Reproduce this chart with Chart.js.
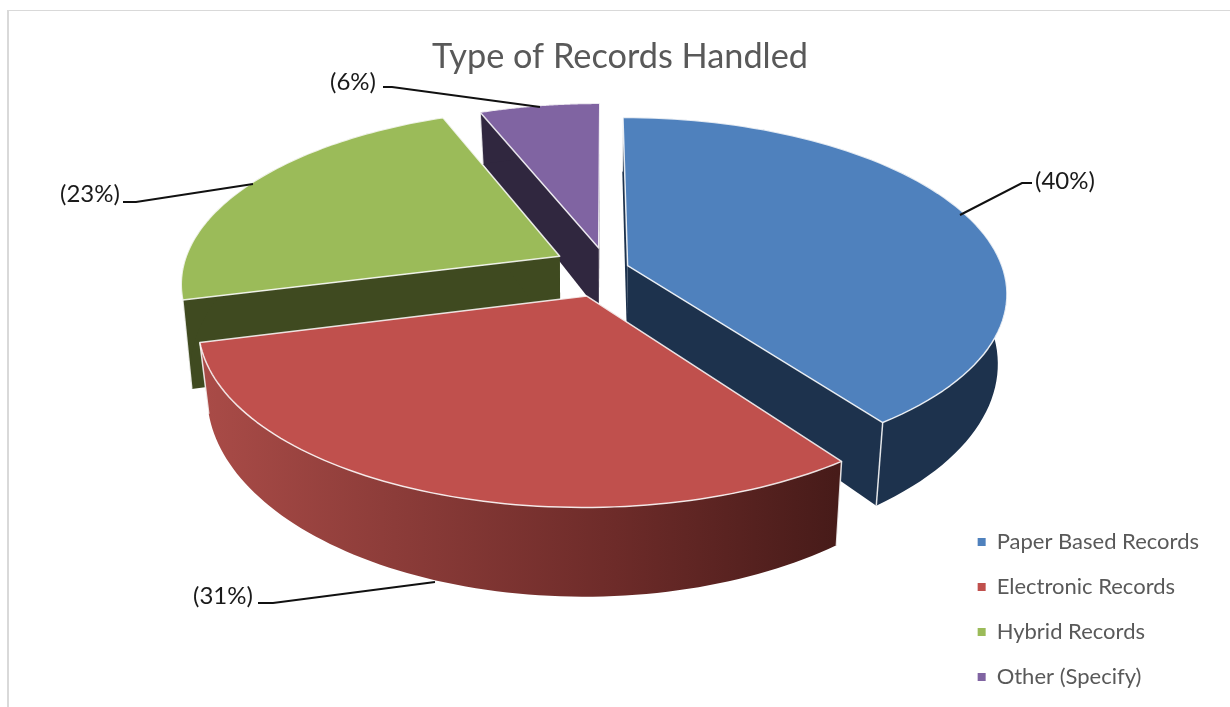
<!DOCTYPE html>
<html>
<head>
<meta charset="utf-8">
<title>Type of Records Handled</title>
<script src="https://cdn.jsdelivr.net/npm/chart.js@4"></script>
<style>
    html, body { margin: 0; background: #fff; overflow: hidden; }
    #frame-top { position: absolute; left: 7px; top: 10px; width: 1223px; height: 1px; background: #d9d9d9; }
    #frame-left { position: absolute; left: 7px; top: 10px; width: 2px; height: 697px; background: #d9d9d9; }
    canvas { position: absolute; left: 0; top: 0; }
</style>
</head>
<body>
<canvas id="chart-records" width="1240" height="711"></canvas>
<div id="frame-top"></div>
<div id="frame-left"></div>
<script>
// Data
const categories = ['Paper Based Records', 'Electronic Records', 'Hybrid Records', 'Other (Specify)'];
const shares = [40, 31, 23, 6];

// Slice colours
const topColors = ['#4f81bd', '#c0504d', '#9bbb59', '#8064a2'];
const wallColors = ['#1d324d', '#4a1c1a', '#3f4a20', '#30273f'];

// How far each slice is pulled out, in hundredths of the radius
const explode = [10, 14, 10, 12];

// Excel's explosion is not quite radial, so each slice gets a small pixel nudge and wall scale
const nudge = [[1, 9], [14, 11], [2, 2], [16, 6]];
const wallScale = [1.04, 1, 1.3, 1];

// Tilted disc: projection settings
const view = { cx: 591, cy: 262, rx: 376, ry: 172, k: 0.15, depth: 65, kz: 0.24, shrink: 0.022 };

// Leader lines for the percent labels, same order as categories
const leaders = [
    { pts: [[960, 215], [1022, 183], [1032, 183]], tx: 1035, ty: 181 },
    { pts: [[435, 582], [273, 603], [258, 603]], tx: 193, ty: 596 },
    { pts: [[253, 184], [136, 202], [123, 202]], tx: 60, ty: 194 },
    { pts: [[540, 107], [392, 87], [383, 87]], tx: 330, ty: 82 }
];

function project(u, v, z, i) {
    const w = 1 - view.k * v;
    return [
        view.cx + nudge[i][0] + view.rx * u / w * (1 - z * view.shrink),
        view.cy + nudge[i][1] + view.ry * v / w + z * wallScale[i] * view.depth / (1 - view.kz * v)
    ];
}

function tracePath(ctx, pts) {
    ctx.beginPath();
    pts.forEach((p, i) => i ? ctx.lineTo(p[0], p[1]) : ctx.moveTo(p[0], p[1]));
    ctx.closePath();
}

function wallFill(ctx, index) {
    if (index !== 1) return wallColors[index];
    // Electronic Records has a lit wall, dark towards the right
    const g = ctx.createLinearGradient(205, 0, 837, 0);
    g.addColorStop(0, '#a94b47');
    g.addColorStop(0.3, '#8c3c39');
    g.addColorStop(0.65, '#6d2b29');
    g.addColorStop(1, '#471b19');
    return g;
}

// Chart.js has no 3D pie: take the angles from its arc elements and project them
const pie3d = {
    id: 'pie3d',
    beforeDatasetsDraw(chart) {
        const ctx = chart.ctx;
        const arcs = chart.getDatasetMeta(0).data;
        ctx.save();
        ctx.lineJoin = 'round';
        [3, 2, 0, 1].forEach(i => {
            const arc = arcs[i];
            const mid = (arc.startAngle + arc.endAngle) / 2;
            const off = arc.options.offset / 100;
            const ou = off * Math.cos(mid);
            const ov = off * Math.sin(mid);
            const rim = [];
            const steps = 80;
            for (let s = 0; s <= steps; s++) {
                const a = arc.startAngle + (arc.endAngle - arc.startAngle) * s / steps;
                rim.push([ou + Math.cos(a), ov + Math.sin(a)]);
            }
            const top = rim.map(p => project(p[0], p[1], 0, i));
            const bottom = rim.map(p => project(p[0], p[1], 1, i));
            const apexTop = project(ou, ov, 0, i);
            const apexBottom = project(ou, ov, 1, i);

            // radial faces
            ctx.fillStyle = wallColors[i];
            tracePath(ctx, [apexTop, top[0], bottom[0], apexBottom]);
            ctx.fill();
            tracePath(ctx, [apexTop, top[steps], bottom[steps], apexBottom]);
            ctx.fill();

            // outer wall
            ctx.fillStyle = wallFill(ctx, i);
            tracePath(ctx, top.concat(bottom.slice().reverse()));
            ctx.fill();

            // white edges at the corners of the wall
            ctx.strokeStyle = 'rgba(255,255,255,0.85)';
            ctx.lineWidth = 1.5;
            [0, steps].forEach(s => {
                ctx.beginPath();
                ctx.moveTo(top[s][0], top[s][1]);
                ctx.lineTo(bottom[s][0], bottom[s][1]);
                ctx.stroke();
            });

            // top face
            ctx.fillStyle = arc.options.backgroundColor;
            tracePath(ctx, [apexTop].concat(top));
            ctx.fill();
            ctx.stroke();
        });
        ctx.restore();

        drawLeaders(chart);
        return false; // the flat arcs stay undrawn
    }
};

function drawLeaders(chart) {
    const ctx = chart.ctx;
    ctx.save();
    ctx.strokeStyle = '#111';
    ctx.lineWidth = 2;
    ctx.fillStyle = '#1a1a1a';
    ctx.font = '24px Lato';
    ctx.textBaseline = 'middle';
    ctx.textAlign = 'left';
    leaders.forEach((l, i) => {
        ctx.beginPath();
        l.pts.forEach((p, n) => n ? ctx.lineTo(p[0], p[1]) : ctx.moveTo(p[0], p[1]));
        ctx.stroke();
        ctx.fillText('(' + shares[i] + '%)', l.tx, l.ty);
    });
    ctx.restore();
}

new Chart(document.getElementById('chart-records').getContext('2d'), {
    type: 'pie',
    plugins: [pie3d],
    data: {
        labels: categories,
        datasets: [{
            data: shares,
            backgroundColor: topColors,
            offset: explode,
            borderWidth: 0
        }]
    },
    options: {
        responsive: false,
        animation: false,
        layout: { padding: { top: 36, left: 31, right: 31, bottom: 0 } },
        plugins: {
            tooltip: { enabled: false },
            title: {
                display: true,
                text: 'Type of Records Handled',
                color: '#595959',
                font: { family: 'Lato', size: 34.3, weight: 'normal' },
                padding: 0
            },
            legend: {
                position: 'right',
                align: 'end',
                labels: {
                    color: '#595959',
                    font: { family: 'Lato', size: 22 },
                    boxWidth: 8,
                    boxHeight: 8,
                    padding: 23
                }
            }
        }
    }
});
</script>
</body>
</html>
